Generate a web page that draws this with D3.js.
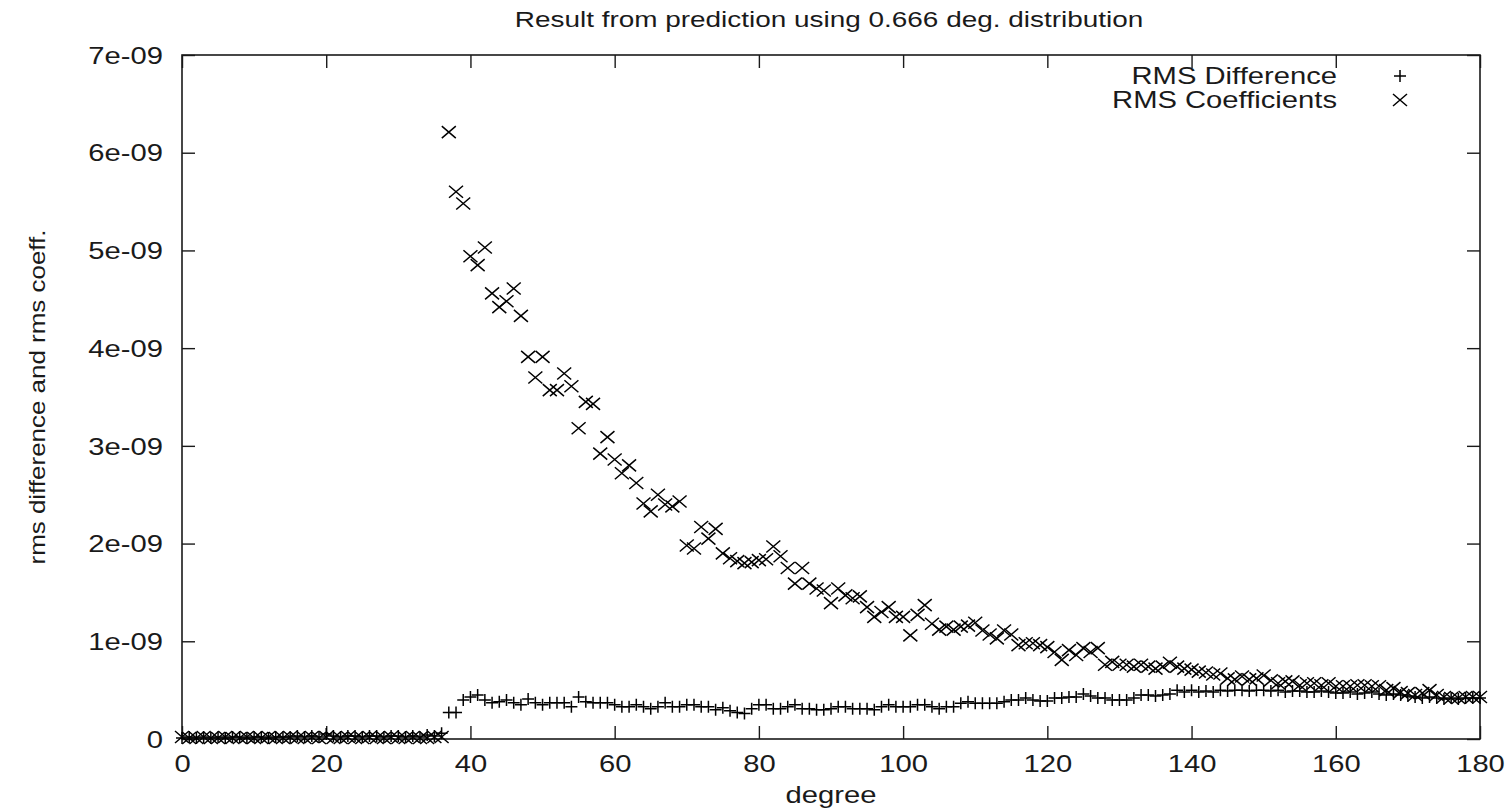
<!DOCTYPE html>
<html>
<head>
<meta charset="utf-8">
<script src="https://cdn.jsdelivr.net/npm/d3@7"></script>
<style>
  html, body { margin: 0; padding: 0; background: #fff; }
  svg { display: block; font-family: "Liberation Sans", Arial, sans-serif; }
</style>
</head>
<body>
<svg id="chart" width="1511" height="809"></svg>
<script>
// degrees 0..180, one sample per degree; values in units of 1e-09
var DEG_START = 0;
var UNIT = 1e-9;

var diffValues = [
  0.01,0.02,0.01,0.02,0.01,0.02,0.01,0.02,0.02,0.01,
  0.02,0.02,0.01,0.02,0.02,0.02,0.03,0.02,0.03,0.02,
  0.05,0.03,0.02,0.03,0.03,0.02,0.03,0.03,0.02,0.03,
  0.03,0.02,0.03,0.02,0.04,0.03,0.06,0.27,0.27,0.40,
  0.43,0.45,0.40,0.37,0.38,0.40,0.37,0.35,0.41,0.37,
  0.35,0.37,0.37,0.37,0.33,0.43,0.38,0.37,0.37,0.37,
  0.35,0.33,0.33,0.35,0.33,0.31,0.33,0.37,0.33,0.33,
  0.35,0.35,0.33,0.33,0.30,0.32,0.29,0.27,0.26,0.31,
  0.35,0.35,0.31,0.31,0.33,0.35,0.31,0.31,0.30,0.30,
  0.31,0.33,0.33,0.31,0.31,0.31,0.30,0.33,0.35,0.33,
  0.33,0.33,0.35,0.35,0.33,0.31,0.33,0.33,0.365,0.38,
  0.365,0.365,0.365,0.365,0.38,0.40,0.40,0.42,0.40,0.39,
  0.39,0.42,0.42,0.43,0.43,0.46,0.44,0.42,0.42,0.40,
  0.40,0.40,0.42,0.45,0.45,0.44,0.45,0.46,0.50,0.48,
  0.50,0.48,0.49,0.48,0.50,0.49,0.50,0.50,0.49,0.50,
  0.50,0.49,0.50,0.48,0.49,0.49,0.48,0.48,0.49,0.48,
  0.47,0.47,0.48,0.46,0.47,0.48,0.46,0.45,0.46,0.45,
  0.44,0.43,0.42,0.43,0.42,0.41,0.42,0.41,0.42,0.42,
  0.42
];

var coefValues = [
  0.02,0.01,0.01,0.02,0.01,0.01,0.02,0.01,0.01,0.02,
  0.01,0.01,0.02,0.01,0.01,0.02,0.01,0.01,0.02,0.01,
  0.02,0.01,0.01,0.02,0.01,0.01,0.02,0.01,0.01,0.02,
  0.01,0.01,0.02,0.01,0.01,0.02,0.02,6.21,5.60,5.48,
  4.94,4.85,5.03,4.56,4.42,4.48,4.61,4.33,3.91,3.70,
  3.91,3.57,3.57,3.74,3.61,3.18,3.45,3.43,2.92,3.09,
  2.86,2.72,2.80,2.62,2.41,2.33,2.50,2.40,2.38,2.43,
  1.98,1.95,2.17,2.05,2.15,1.90,1.85,1.82,1.80,1.81,
  1.83,1.84,1.97,1.87,1.75,1.59,1.75,1.59,1.54,1.52,
  1.39,1.54,1.47,1.44,1.46,1.35,1.25,1.30,1.35,1.25,
  1.25,1.06,1.27,1.37,1.18,1.12,1.15,1.12,1.15,1.16,
  1.19,1.11,1.07,1.03,1.11,1.07,0.96,0.98,0.98,0.96,
  0.94,0.89,0.81,0.91,0.86,0.93,0.89,0.93,0.76,0.79,
  0.76,0.76,0.74,0.76,0.74,0.72,0.74,0.78,0.74,0.72,
  0.71,0.69,0.68,0.66,0.67,0.62,0.61,0.64,0.61,0.62,
  0.65,0.60,0.57,0.59,0.59,0.55,0.57,0.57,0.55,0.57,
  0.54,0.54,0.54,0.55,0.55,0.54,0.54,0.50,0.52,0.48,
  0.47,0.45,0.47,0.50,0.45,0.43,0.42,0.42,0.43,0.43,
  0.43
];

var xTicks = [0, 20, 40, 60, 80, 100, 120, 140, 160, 180];
var yTicks = [0, 1, 2, 3, 4, 5, 6, 7];
var legendLabels = ['RMS Difference', 'RMS Coefficients'];

var TITLE = 'Result from prediction using 0.666 deg. distribution';
var X_LABEL = 'degree';
var Y_LABEL = 'rms difference and rms coeff.';

// the source picture is stretched horizontally, so text is too
var SX = 1.27;
var INK = '#1a1a1a';

var margin = { left: 182, top: 55, right: 31, bottom: 70 };
var W = 1511, H = 809;
var plotW = W - margin.left - margin.right;
var plotH = H - margin.top - margin.bottom;

var svg = d3.select('#chart');
var g = svg.append('g').attr('transform', 'translate(' + margin.left + ',' + margin.top + ')');

var x = d3.scaleLinear().domain([0, 180]).range([0, plotW]);
var y = d3.scaleLinear().domain([0, 7 * UNIT]).range([plotH, 0]);

function fmtY(v) {
    if (v === 0) return '0';
    return Math.round(v / UNIT) + 'e-09';
}

var TICK = 13;

// left axis with labels
var yAxis = g.append('g')
    .call(d3.axisLeft(y).tickValues(yTicks.map(function (t) { return t * UNIT; }))
        .tickFormat(fmtY).tickSizeInner(-TICK).tickSizeOuter(0).tickPadding(19));
// right mirror
var yAxisR = g.append('g').attr('transform', 'translate(' + plotW + ',0)')
    .call(d3.axisRight(y).tickValues(yTicks.map(function (t) { return t * UNIT; }))
        .tickFormat('').tickSizeInner(-TICK).tickSizeOuter(0));
// bottom axis with labels
var xAxis = g.append('g').attr('transform', 'translate(0,' + plotH + ')')
    .call(d3.axisBottom(x).tickValues(xTicks).tickSizeInner(-TICK).tickSizeOuter(0).tickPadding(16));
// top mirror
var xAxisT = g.append('g')
    .call(d3.axisTop(x).tickValues(xTicks).tickFormat('').tickSizeInner(-TICK).tickSizeOuter(0));

[yAxis, yAxisR, xAxis, xAxisT].forEach(function (a) {
    a.select('.domain').remove();
    a.selectAll('line').attr('stroke', INK).attr('stroke-width', 1.4);
    a.selectAll('text').attr('fill', INK).attr('font-size', 23)
        .attr('font-family', '"Liberation Sans", Arial, sans-serif');
});

// stretch tick labels horizontally
yAxis.selectAll('.tick text')
    .attr('x', -19 / SX)
    .attr('dy', '0.36em')
    .attr('transform', 'scale(' + SX + ',1)');
xAxis.selectAll('.tick text')
    .attr('transform', 'scale(' + SX + ',1)')
    .attr('dy', '0.72em');

// frame
g.append('rect')
    .attr('x', 0).attr('y', 0).attr('width', plotW).attr('height', plotH)
    .attr('fill', 'none').attr('stroke', INK).attr('stroke-width', 1.6);

// markers
var plusPath = 'M-6,0H6M0,-6V6';
var crossPath = 'M-7,-6L7,6M-7,6L7,-6';

function drawSeries(values, path, cls) {
    g.append('g').attr('class', cls)
        .selectAll('path')
        .data(values)
        .join('path')
        .attr('transform', function (d, i) {
            return 'translate(' + x(DEG_START + i) + ',' + y(d * UNIT) + ')';
        })
        .attr('d', path)
        .attr('fill', 'none')
        .attr('stroke', '#000')
        .attr('stroke-width', 1.5);
}

drawSeries(diffValues, plusPath, 'diff');
drawSeries(coefValues, crossPath, 'coef');

function stretchedText(parent, tx, ty, str, size, anchor) {
    return parent.append('text')
        .attr('transform', 'translate(' + tx + ',' + ty + ') scale(' + SX + ',1)')
        .attr('text-anchor', anchor || 'middle')
        .attr('font-size', size)
        .attr('fill', INK)
        .text(str);
}

// title + x label
stretchedText(svg, 829, 27, TITLE, 22);
stretchedText(svg, 831, 803, X_LABEL, 23);

// y label (rotated)
svg.append('text')
    .attr('transform', 'translate(45,' + (margin.top + plotH / 2) + ') rotate(-90)')
    .attr('text-anchor', 'middle')
    .attr('font-size', 22)
    .attr('fill', INK)
    .attr('textLength', 335)
    .attr('lengthAdjust', 'spacingAndGlyphs')
    .text(Y_LABEL);

// legend
var legendY = [84, 108];
var legendPaths = [plusPath, crossPath];
legendLabels.forEach(function (lbl, i) {
    stretchedText(svg, 1337, legendY[i], lbl, 23, 'end');
    svg.append('path')
        .attr('transform', 'translate(1400,' + (legendY[i] - 8) + ')')
        .attr('d', legendPaths[i])
        .attr('fill', 'none')
        .attr('stroke', '#000')
        .attr('stroke-width', 1.5);
});
</script>
</body>
</html>
